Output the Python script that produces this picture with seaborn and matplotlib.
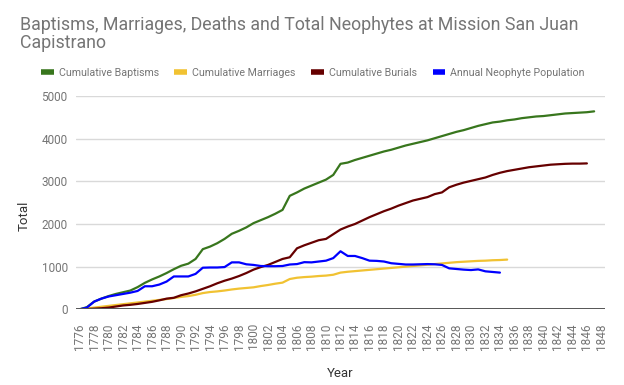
import numpy as np
import pandas as pd
import matplotlib
matplotlib.use("Agg")
import matplotlib.pyplot as plt
import seaborn as sns

sns.set_theme(style="white")
plt.rcParams['font.family'] = ['Roboto', 'DejaVu Sans']

# cumulative baptisms, 1776-1847
baptism_years = list(range(1776, 1848))
baptisms = [0, 50, 180, 250, 310, 360, 400, 440, 520, 620,
            700, 770, 850, 940, 1020, 1070, 1180, 1410, 1470, 1550,
            1650, 1770, 1840, 1920, 2020, 2090, 2160, 2240, 2330, 2660,
            2740, 2830, 2900, 2970, 3040, 3150, 3410, 3440, 3500, 3550,
            3600, 3650, 3700, 3740, 3790, 3840, 3880, 3920, 3960, 4010,
            4060, 4110, 4160, 4200, 4250, 4300, 4340, 4380, 4400, 4430,
            4450, 4480, 4500, 4520, 4530, 4550, 4570, 4590, 4600, 4610,
            4620, 4640]

# cumulative marriages, 1777-1835
marriage_years = list(range(1777, 1836))
marriages = [20, 40, 60, 80, 100, 120, 140, 160, 180, 200,
             220, 240, 265, 290, 310, 340, 380, 405, 420, 440,
             465, 485, 500, 515, 545, 570, 600, 625, 710, 740,
             755, 765, 780, 790, 810, 860, 880, 895, 910, 925,
             940, 955, 970, 985, 1000, 1015, 1030, 1045, 1060, 1075,
             1090, 1105, 1115, 1125, 1135, 1140, 1150, 1155, 1165]

# cumulative burials, 1777-1846
burial_years = list(range(1777, 1847))
burials = [5, 15, 25, 40, 65, 90, 105, 125, 150, 175,
           210, 250, 270, 330, 370, 420, 480, 540, 610, 670,
           720, 780, 850, 930, 990, 1040, 1110, 1180, 1220, 1430,
           1500, 1560, 1620, 1650, 1760, 1870, 1940, 2000, 2080, 2160,
           2230, 2300, 2360, 2430, 2490, 2550, 2590, 2630, 2700, 2740,
           2860, 2920, 2970, 3010, 3050, 3090, 3150, 3200, 3240, 3270,
           3300, 3330, 3350, 3370, 3390, 3400, 3410, 3415, 3415, 3420]

# annual neophyte population, 1776-1834
population_years = list(range(1776, 1835))
population = [0, 40, 180, 250, 300, 330, 360, 390, 430, 540,
              540, 580, 650, 770, 770, 770, 830, 975, 980, 980,
              990, 1100, 1100, 1055, 1040, 1015, 1010, 1010, 1015, 1050,
              1060, 1105, 1100, 1120, 1140, 1200, 1360, 1250, 1250, 1200,
              1140, 1135, 1120, 1080, 1065, 1050, 1050, 1055, 1060, 1055,
              1040, 960, 945, 930, 920, 935, 890, 875, 860]

series = [
    ("Cumulative Baptisms", baptism_years, baptisms, "#38761d"),
    ("Cumulative Marriages", marriage_years, marriages, "#f1c232"),
    ("Cumulative Burials", burial_years, burials, "#660000"),
    ("Annual Neophyte Population", population_years, population, "#0000ff"),
]

fig = plt.figure(figsize=(6.24, 3.85), dpi=100)
ax = fig.add_axes([76 / 624, 1 - 309.3 / 385, 529 / 624, (309.3 - 96) / 385])

for name, yrs, vals, col in series:
    sns.lineplot(x=yrs, y=vals, ax=ax, color=col, linewidth=1.6, label=name)

grey = "#757575"
ax.set_xlim(1775.5, 1848.5)
ax.set_ylim(0, 5000)
ax.set_yticks([0, 1000, 2000, 3000, 4000, 5000])
ax.set_xticks(list(range(1776, 1849, 2)))
ax.tick_params(axis="x", labelrotation=90, labelsize=8.5, colors=grey, length=0, pad=10)
ax.tick_params(axis="y", labelsize=8.5, colors=grey, length=0, pad=6)
ax.grid(axis="y", color="#d9d9d9", linewidth=1)
ax.grid(axis="x", visible=False)
for side in ["top", "right", "left", "bottom"]:
    ax.spines[side].set_visible(False)
ax.axhline(0, color="#555555", linewidth=1.4, zorder=3)

ax.set_xlabel("Year", fontsize=9.5, color="#333333")
ax.xaxis.set_label_coords(0.5, -0.272)
ax.set_ylabel("Total", fontsize=9.5, color="#333333")
ax.yaxis.set_label_coords(-0.085, 0.44)

leg = ax.legend(loc="center left", bbox_to_anchor=(41 / 624, 1 - 72.5 / 385),
                bbox_transform=fig.transFigure, ncol=4, frameon=False,
                fontsize=7.7, handlelength=1.2, handletextpad=0.47,
                columnspacing=1.45, borderaxespad=0, borderpad=0)
for line in leg.get_lines():
    line.set_linewidth(4)
    line.set_solid_capstyle("butt")
for t in leg.get_texts():
    t.set_color(grey)

fig.text(20 / 624, 1 - 16 / 385,
         "Baptisms, Marriages, Deaths and Total Neophytes at Mission San Juan\nCapistrano",
         fontsize=12.8, color=grey, ha="left", va="top", linespacing=0.98)

fig.savefig("out.png", dpi=100)
